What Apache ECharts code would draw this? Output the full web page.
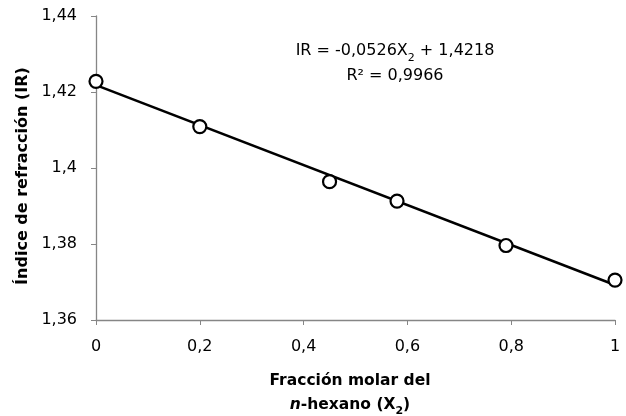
<!DOCTYPE html>
<html><head><meta charset="utf-8">
<script src="https://cdn.jsdelivr.net/npm/echarts@6/dist/echarts.min.js"></script>
<style>html,body{margin:0;padding:0;background:#fff}#c{width:626px;height:416px}</style>
</head><body><div id="c"></div>
<script>
const xValues = [0, 0.2, 0.45, 0.58, 0.79, 1];
const irValues = [1.4228, 1.4109, 1.3964, 1.3913, 1.3796, 1.3705];
const trendX = [0, 1];
const trendY = [1.4218, 1.3692];
const xTicks = [0, 0.2, 0.4, 0.6, 0.8, 1];
const yTicks = [1.36, 1.38, 1.40, 1.42, 1.44];

const FONT = 'DejaVu Sans';
const chart = echarts.init(document.getElementById('c'), null, {renderer: 'canvas'});
const fmt = v => String(+v.toFixed(2)).replace('.', ',');
chart.setOption({
  animation: false,
  backgroundColor: '#fff',
  grid: {left: 96, right: 11, top: 16, bottom: 96, containLabel: false, outerBoundsMode: 'none'},
  xAxis: {
    type: 'value', min: 0, max: 1, interval: 0.2,
    axisLine: {lineStyle: {color: '#868686', width: 1.3}},
    axisTick: {show: true, inside: false, length: 5, lineStyle: {color: '#868686'}},
    splitLine: {show: false},
    axisLabel: {color: '#000', fontFamily: FONT, fontSize: 16, margin: 19, formatter: fmt},
    name: '{b|Fracción molar del}\n{bi|n}{b|-hexano (X}{bs|2}{b|)}',
    nameLocation: 'middle', nameGap: 49,
    nameTextStyle: {
      align: 'center',
      padding: [0, 11, 0, 0],
      rich: {
        b: {fontFamily: FONT, fontWeight: 'bold', fontSize: 15.5, color: '#000', lineHeight: 24},
        bi: {fontFamily: FONT, fontWeight: 'bold', fontStyle: 'italic', fontSize: 15.5, color: '#000', lineHeight: 24},
        bs: {fontFamily: FONT, fontWeight: 'bold', fontSize: 11, color: '#000', verticalAlign: 'bottom', padding: [7, 0, 0, 0], lineHeight: 24}
      }
    }
  },
  yAxis: {
    type: 'value', min: 1.36, max: 1.44, interval: 0.02,
    axisLine: {show: true, lineStyle: {color: '#868686', width: 1.3}},
    axisTick: {show: true, inside: false, length: 5, lineStyle: {color: '#868686'}},
    splitLine: {show: false},
    axisLabel: {color: '#000', fontFamily: FONT, fontSize: 16, margin: 19, formatter: fmt},
    name: 'Índice de refracción (IR)',
    nameLocation: 'middle', nameRotate: 90, nameGap: 64,
    nameTextStyle: {fontFamily: FONT, fontWeight: 'bold', fontSize: 16, color: '#000', padding: [0, 16, 0, 0]}
  },
  series: [
    {
      type: 'line', data: trendX.map((x, i) => [x, trendY[i]]),
      showSymbol: false, symbol: 'none', silent: true,
      lineStyle: {color: '#000', width: 2.6}, z: 2
    },
    {
      type: 'scatter', data: xValues.map((x, i) => [x, irValues[i]]),
      symbol: 'circle', symbolSize: 13,
      itemStyle: {color: '#ffffff', opacity: 1, borderColor: '#000', borderWidth: 2.2}, z: 3
    }
  ],
  graphic: [{
    type: 'text', x: 395, y: 38,
    style: {
      text: '{a|IR = -0,0526X}{s|2}{a| + 1,4218}\n{a|R² = 0,9966}',
      align: 'center', verticalAlign: 'top',
      rich: {
        a: {fontFamily: FONT, fontSize: 16, fill: '#000', lineHeight: 25.5, align: 'center'},
        s: {fontFamily: FONT, fontSize: 11, fill: '#000', verticalAlign: 'bottom', padding: [8, 0, 0, 0], lineHeight: 25.5}
      }
    }
  }]
});
</script></body></html>
